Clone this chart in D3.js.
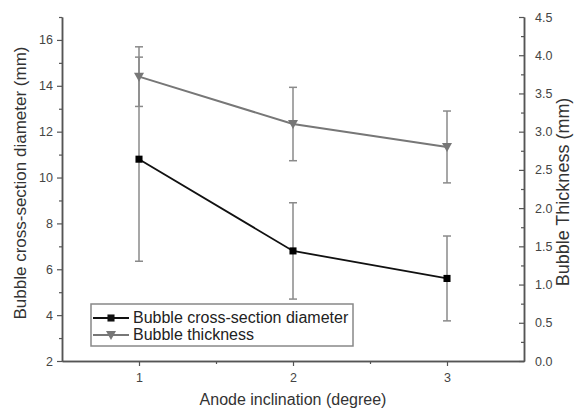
<!DOCTYPE html>
<html>
<head>
<meta charset="utf-8">
<script src="https://cdn.jsdelivr.net/npm/d3@7"></script>
<style>
  body { margin: 0; background: #fff; }
  text { font-family: "Liberation Sans", Arial, sans-serif; }
</style>
</head>
<body>
<div id="chart"></div>
<script>
'use strict';

// values
var inclination = [1, 2, 3];
var diameter = [10.8, 6.8, 5.6];
var diameterErr = [4.45, 2.1, 1.85];
var thickness = [3.72, 3.10, 2.80];
var thicknessErr = [0.39, 0.48, 0.47];

var xTicks = [1, 2, 3];
var xMinor = [1.5, 2.5];
var leftTicks = [2, 4, 6, 8, 10, 12, 14, 16];
var leftMinor = [3, 5, 7, 9, 11, 13, 15, 17];
var rightTicks = [0, 0.5, 1, 1.5, 2, 2.5, 3, 3.5, 4, 4.5];
var rightMinor = [0.25, 0.75, 1.25, 1.75, 2.25, 2.75, 3.25, 3.75, 4.25];

var seriesNames = ['Bubble cross-section diameter', 'Bubble thickness'];

var width = 574, height = 411;
var axisColor = '#555';
var errColor = '#8a8a8a';

var svg = d3.select('#chart').append('svg')
    .attr('width', width)
    .attr('height', height);

var x = d3.scaleLinear().domain([0.5, 3.5]).range([62, 524]);
var yL = d3.scaleLinear().domain([2, 17]).range([361, 17]);
var yR = d3.scaleLinear().domain([0, 4.5]).range([361, 17]);

// axes
function styleAxis(g) {
    g.select('.domain').attr('stroke', axisColor).attr('stroke-width', 1.5);
    g.selectAll('.tick line').attr('stroke', axisColor).attr('stroke-width', 1.2);
    g.selectAll('.tick text').attr('fill', '#444').style('font-size', '12.5px');
}

var xAxis = svg.append('g')
    .attr('transform', 'translate(0,361)')
    .call(d3.axisBottom(x).tickValues(xTicks).tickFormat(d3.format('d')).tickSize(5).tickPadding(7).tickSizeOuter(0));
styleAxis(xAxis);
svg.append('g')
    .attr('transform', 'translate(0,361)')
    .call(d3.axisBottom(x).tickValues(xMinor).tickFormat('').tickSize(3).tickSizeOuter(0))
    .call(styleAxis);

var leftAxis = svg.append('g')
    .attr('transform', 'translate(62,0)')
    .call(d3.axisLeft(yL).tickValues(leftTicks).tickSize(5).tickPadding(4).tickSizeOuter(0));
styleAxis(leftAxis);
svg.append('g')
    .attr('transform', 'translate(62,0)')
    .call(d3.axisLeft(yL).tickValues(leftMinor).tickFormat('').tickSize(3).tickSizeOuter(0))
    .call(styleAxis);

var rightAxis = svg.append('g')
    .attr('transform', 'translate(524,0)')
    .call(d3.axisRight(yR).tickValues(rightTicks).tickFormat(d3.format('.1f')).tickSize(-5).tickPadding(11).tickSizeOuter(0));
styleAxis(rightAxis);
svg.append('g')
    .attr('transform', 'translate(524,0)')
    .call(d3.axisRight(yR).tickValues(rightMinor).tickFormat('').tickSize(-3).tickSizeOuter(0))
    .call(styleAxis);

// axis titles
svg.append('text')
    .attr('x', 293).attr('y', 405)
    .attr('text-anchor', 'middle')
    .attr('fill', '#333')
    .style('font-size', '16px')
    .text('Anode inclination (degree)');

svg.append('text')
    .attr('transform', 'translate(26,183) rotate(-90)')
    .attr('text-anchor', 'middle')
    .attr('fill', '#333')
    .style('font-size', '17px')
    .text('Bubble cross-section diameter (mm)');

svg.append('text')
    .attr('transform', 'translate(569,192) rotate(-90)')
    .attr('text-anchor', 'middle')
    .attr('fill', '#333')
    .style('font-size', '18px')
    .text('Bubble Thickness (mm)');

// error bars
function errorBars(vals, errs, y) {
    var g = svg.append('g').attr('stroke', errColor).attr('stroke-width', 1.5);
    inclination.forEach(function (d, i) {
        var lo = y(vals[i] - errs[i]), hi = y(vals[i] + errs[i]);
        g.append('line').attr('x1', x(d)).attr('x2', x(d)).attr('y1', lo).attr('y2', hi);
        g.append('line').attr('x1', x(d) - 4).attr('x2', x(d) + 4).attr('y1', lo).attr('y2', lo);
        g.append('line').attr('x1', x(d) - 4).attr('x2', x(d) + 4).attr('y1', hi).attr('y2', hi);
    });
}
errorBars(thickness, thicknessErr, yR);
errorBars(diameter, diameterErr, yL);

// lines
var thickLine = d3.line().x(function (d, i) { return x(inclination[i]); }).y(function (d) { return yR(d); });
var diamLine = d3.line().x(function (d, i) { return x(inclination[i]); }).y(function (d) { return yL(d); });

svg.append('path')
    .datum(thickness)
    .attr('d', thickLine)
    .attr('fill', 'none')
    .attr('stroke', '#777')
    .attr('stroke-width', 2);

svg.append('path')
    .datum(diameter)
    .attr('d', diamLine)
    .attr('fill', 'none')
    .attr('stroke', '#111')
    .attr('stroke-width', 1.8);

// markers
var square = d3.symbol().type(d3.symbolSquare).size(50);
var triDown = 'M-5,-4L5,-4L0,5Z';

svg.selectAll('.tri')
    .data(thickness)
    .enter().append('path')
    .attr('class', 'tri')
    .attr('d', triDown)
    .attr('fill', '#777')
    .attr('transform', function (d, i) { return 'translate(' + x(inclination[i]) + ',' + yR(d) + ')'; });

svg.selectAll('.sq')
    .data(diameter)
    .enter().append('path')
    .attr('class', 'sq')
    .attr('d', square)
    .attr('fill', '#000')
    .attr('transform', function (d, i) { return 'translate(' + x(inclination[i]) + ',' + yL(d) + ')'; });

// legend
var legend = svg.append('g');
legend.append('rect')
    .attr('x', 91).attr('y', 304)
    .attr('width', 262).attr('height', 42)
    .attr('fill', '#fff')
    .attr('stroke', '#888')
    .attr('stroke-width', 1.5);

var rows = [
    { name: seriesNames[0], color: '#111', marker: square, y: 318 },
    { name: seriesNames[1], color: '#777', marker: triDown, y: 335 }
];
rows.forEach(function (r) {
    legend.append('line')
        .attr('x1', 93).attr('x2', 129)
        .attr('y1', r.y).attr('y2', r.y)
        .attr('stroke', r.color).attr('stroke-width', 2);
    legend.append('path')
        .attr('d', r.marker)
        .attr('fill', r.color)
        .attr('transform', 'translate(111,' + r.y + ')');
    legend.append('text')
        .attr('x', 133).attr('y', r.y + 5)
        .attr('fill', '#222')
        .style('font-size', '16px')
        .text(r.name);
});
</script>
</body>
</html>
